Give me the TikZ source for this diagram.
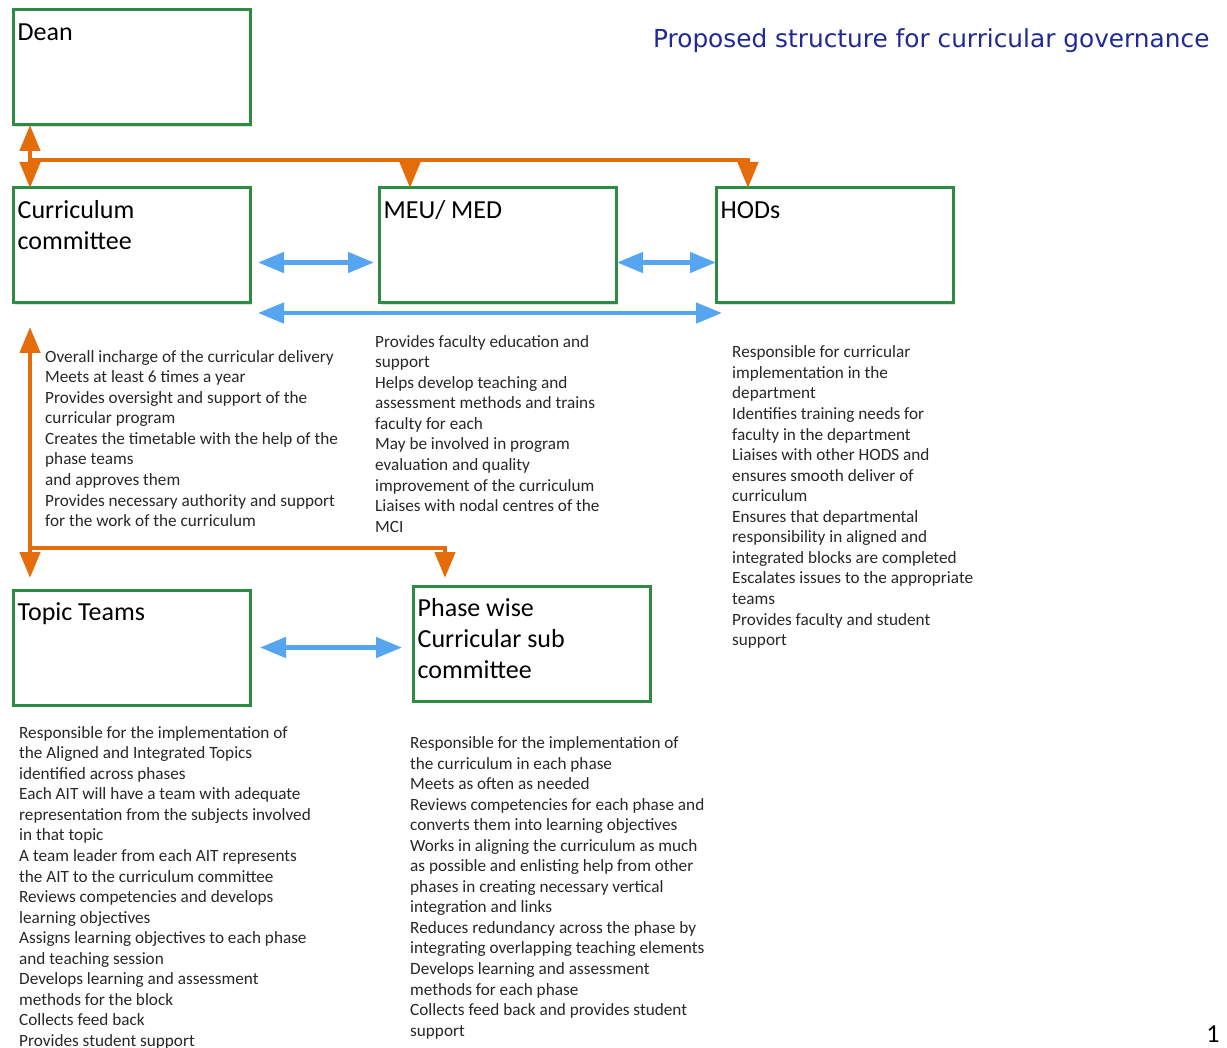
\documentclass[tikz,border=0pt]{standalone}
\usepackage{fontspec}
\setmainfont{Carlito}
\newfontfamily\titlefont{DejaVu Sans}
\usetikzlibrary{arrows.meta, shadows}
\definecolor{boxgreen}{RGB}{46,139,66}
\definecolor{linkorange}{RGB}{228,108,10}
\definecolor{linkblue}{RGB}{85,165,240}
\definecolor{titleblue}{RGB}{32,42,150}
\definecolor{notegray}{RGB}{40,40,40}
\tikzset{>={Triangle[width=20pt,length=26pt]},
  unit/.style={draw=boxgreen, line width=3pt, fill=white, outer sep=0pt,
    minimum width=237pt, minimum height=115pt, anchor=north west,
    drop shadow={opacity=0.25, shadow xshift=2pt, shadow yshift=-2pt}},
  unitname/.style={anchor=north west, inner xsep=4.5pt, inner ysep=8.8pt, align=left,
    font=\fontsize{26}{31}\selectfont},
  notes/.style={anchor=north west, inner sep=0pt, align=left, text=notegray,
    font=\fontsize{17.2}{20.55}\selectfont},
  olink/.style={draw=linkorange, line width=4.5pt},
  blink/.style={draw=linkblue, line width=4.5pt}}
\begin{document}
\begin{tikzpicture}[x=1pt, y=-1pt]
    \useasboundingbox[fill=white] (0,0) rectangle (1227,1048);
    \node[unit, label={[unitname]north west:{\strut Dean}}] (dean) at (13,10) {};
    \node[unit, label={[unitname]north west:{\strut Curriculum\\committee}}] (cc) at (13,188) {};
    \node[unit, label={[unitname]north west:{\strut MEU/ MED}}] (meu) at (379,188) {};
    \node[unit, label={[unitname]north west:{\strut HODs}}] (hods) at (716,188) {};
    \node[unit, label={[unitname]north west:{\strut Topic Teams}}] (topic) at (13,590) {};
    \node[unit, label={[unitname]north west:{\strut Phase wise\\Curricular sub\\committee}}] (phase) at (413,586) {};
    \node[anchor=base east, text=titleblue, font=\titlefont\fontsize{24.8}{30}\selectfont] (title) at (1213,48) {Proposed structure for curricular governance};
    \node[anchor=base east, font=\fontsize{26}{30}\selectfont] (pageno) at (1223,1042) {1};
    \draw[olink,<->] ([xshift=17pt]dean.south west) -- ([xshift=17pt]cc.north west);
    \draw[olink,->] ([xshift=17pt,yshift=-35pt]dean.south west) -| ([xshift=32pt]hods.north west);
    \draw[olink,->] ([xshift=31pt,yshift=28pt]meu.north west) -- ([xshift=31pt]meu.north west);
    \draw[olink,<->] ([xshift=17pt,yshift=-24pt]cc.south west) -- ([xshift=17pt,yshift=12pt]topic.north west);
    \draw[olink,->] ([xshift=17pt,yshift=42pt]topic.north west) -| ([xshift=32pt,yshift=8pt]phase.north west);
    \draw[blink,<->] ([xshift=8pt,yshift=-17pt]cc.east) -- ([xshift=-5pt,yshift=-17pt]meu.west);
    \draw[blink,<->] ([xshift=1pt,yshift=-17pt]meu.east) -- ([yshift=-17pt]hods.west);
    \draw[blink,<->] ([xshift=8pt,yshift=-10pt]cc.south east) -- ([xshift=6pt,yshift=-10pt]hods.south west);
    \draw[blink,<->,shorten <=10pt,shorten >=11pt] (topic.east) -- (topic.east -| phase.west);
    \node[notes] (ccnotes) at (45,347.6) {\strut Overall incharge of the curricular delivery\\
        Meets at least 6 times a year\\
        Provides oversight and support of the\\
        curricular program\\
        Creates the timetable with the help of the\\
        phase teams\\
        and approves them\\
        Provides necessary authority and support\\
        for the work of the curriculum};
    \node[notes] (meunotes) at (375,332.6) {\strut Provides faculty education and\\
        support\\
        Helps develop teaching and\\
        assessment methods and trains\\
        faculty for each\\
        May be involved in program\\
        evaluation and quality\\
        improvement of the curriculum\\
        Liaises with nodal centres of the\\
        MCI};
    \node[notes] (hodsnotes) at (732,343.3) {\strut Responsible for curricular\\
        implementation in the\\
        department\\
        Identifies training needs for\\
        faculty in the department\\
        Liaises with other HODS and\\
        ensures smooth deliver of\\
        curriculum\\
        Ensures that departmental\\
        responsibility in aligned and\\
        integrated blocks are completed\\
        Escalates issues to the appropriate\\
        teams\\
        Provides faculty and student\\
        support};
    \node[notes] (topicnotes) at (19,723.6) {\strut Responsible for the implementation of\\
        the Aligned and Integrated Topics\\
        identified across phases\\
        Each AIT will have a team with adequate\\
        representation from the subjects involved\\
        in that topic\\
        A team leader from each AIT represents\\
        the AIT to the curriculum committee\\
        Reviews competencies and develops\\
        learning objectives\\
        Assigns learning objectives to each phase\\
        and teaching session\\
        Develops learning and assessment\\
        methods for the block\\
        Collects feed back\\
        Provides student support};
    \node[notes] (phasenotes) at (410,733.9) {\strut Responsible for the implementation of\\
        the curriculum in each phase\\
        Meets as often as needed\\
        Reviews competencies for each phase and\\
        converts them into learning objectives\\
        Works in aligning the curriculum as much\\
        as possible and enlisting help from other\\
        phases in creating necessary vertical\\
        integration and links\\
        Reduces redundancy across the phase by\\
        integrating overlapping teaching elements\\
        Develops learning and assessment\\
        methods for each phase\\
        Collects feed back and provides student\\
        support};
\end{tikzpicture}
\end{document}
